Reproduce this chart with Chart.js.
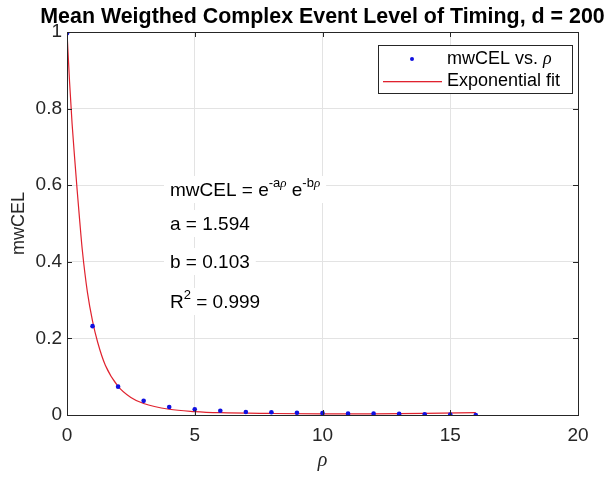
<!DOCTYPE html>
<html>
<head>
<meta charset="utf-8">
<script src="https://cdn.jsdelivr.net/npm/chart.js@4/dist/chart.umd.min.js"></script>
<style>
  body { margin: 0; background: #fff; }
  #wrap { width: 608px; height: 477px; }
</style>
</head>
<body>
<div id="wrap"><canvas id="myChart" width="608" height="477"></canvas></div>
<script>
// measured points
let rho = [0, 1, 2, 3, 4, 5, 6, 7, 8, 9, 10, 11, 12, 13, 14, 15, 16];
let mwCEL = [0.997, 0.232, 0.074, 0.037, 0.021, 0.015, 0.011, 0.008, 0.007, 0.006, 0.005, 0.004, 0.004, 0.003, 0.002, 0.001, 0.0];

// fitted curve
let fitRho = [0, 0.1, 0.2, 0.3, 0.4, 0.5, 0.6, 0.8, 1, 1.2, 1.5, 2, 2.5, 3, 4, 5, 6, 8, 10, 12, 14, 16];
let fitVal = [1.0, 0.87, 0.76, 0.67, 0.585, 0.505, 0.43, 0.32, 0.245, 0.19, 0.13, 0.075, 0.046, 0.03, 0.015, 0.009, 0.006, 0.004, 0.003, 0.003, 0.004, 0.006];

let xTicks = [0, 5, 10, 15, 20];
let yTicks = [0, 0.2, 0.4, 0.6, 0.8, 1];

let titleText = "Mean Weigthed Complex Event Level of Timing, d = 200";
let fitParams = { a: "1.594", b: "0.103", r2: "0.999" };

const FONT = "'Liberation Sans', Arial, sans-serif";
const dotColor = "#1010e0";
const fitColor = "#e0222e";

let points = rho.map((r, i) => ({ x: r, y: mwCEL[i] }));
let fitLine = fitRho.map((r, i) => ({ x: r, y: fitVal[i] }));

// draws title, box, inner ticks, legend and the fit text
const matlabLook = {
  id: "matlabLook",
  afterDraw(chart) {
    const ctx = chart.ctx;
    const a = chart.chartArea;
    const xs = chart.scales.x, ys = chart.scales.y;
    ctx.save();

    // box
    ctx.strokeStyle = "#262626";
    ctx.lineWidth = 1;
    ctx.strokeRect(Math.round(a.left) + 0.5, Math.round(a.top) + 0.5, Math.round(a.right - a.left), Math.round(a.bottom - a.top));

    // inner ticks
    ctx.beginPath();
    xTicks.forEach((t) => {
      let px = Math.round(xs.getPixelForValue(t)) + 0.5;
      ctx.moveTo(px, a.bottom); ctx.lineTo(px, a.bottom - 5);
      ctx.moveTo(px, a.top); ctx.lineTo(px, a.top + 5);
    });
    yTicks.forEach((t) => {
      let py = Math.round(ys.getPixelForValue(t)) + 0.5;
      ctx.moveTo(a.left, py); ctx.lineTo(a.left + 5, py);
      ctx.moveTo(a.right, py); ctx.lineTo(a.right - 5, py);
    });
    ctx.stroke();

    // title
    ctx.fillStyle = "#000";
    ctx.font = "bold 21.4px " + FONT;
    ctx.textAlign = "center";
    ctx.textBaseline = "alphabetic";
    ctx.fillText(titleText, (a.left + a.right) / 2, 23);

    // fit text, with white backing
    ctx.textAlign = "left";
    const big = "19px " + FONT, small = "13px " + FONT, smallIt = "italic 13px 'Liberation Serif', serif";
    function runs(list, x, y) {
      let w = 0;
      list.forEach((r) => { ctx.font = r.f; w += ctx.measureText(r.t).width; });
      ctx.fillStyle = "#fff";
      ctx.fillRect(x - 6, y - 20, w + 12, 27);
      ctx.fillStyle = "#000";
      let cx = x;
      list.forEach((r) => {
        ctx.font = r.f;
        ctx.fillText(r.t, cx, y - (r.up || 0));
        cx += ctx.measureText(r.t).width;
      });
    }
    let tx = 170;
    runs([{ t: "mwCEL = e", f: big }, { t: "-a", f: small, up: 9 }, { t: "\u03c1", f: smallIt, up: 9 },
          { t: " e", f: big }, { t: "-b", f: small, up: 9 }, { t: "\u03c1", f: smallIt, up: 9 }], tx, 196);
    runs([{ t: "a = " + fitParams.a, f: big }], tx, 230);
    runs([{ t: "b = " + fitParams.b, f: big }], tx, 268);
    runs([{ t: "R", f: big }, { t: "2", f: small, up: 9 }, { t: " = " + fitParams.r2, f: big }], tx, 308);

    // legend
    const lx = 378, ly = 45, lw = 194, lh = 48;
    ctx.fillStyle = "#fff";
    ctx.fillRect(lx, ly, lw, lh);
    ctx.strokeStyle = "#262626";
    ctx.lineWidth = 1;
    ctx.strokeRect(lx + 0.5, ly + 0.5, lw, lh);
    ctx.fillStyle = dotColor;
    ctx.beginPath();
    ctx.arc(412, 59, 2, 0, Math.PI * 2);
    ctx.fill();
    ctx.fillStyle = fitColor;
    ctx.fillRect(383, 81, 59, 1.3);
    ctx.fillStyle = "#000";
    ctx.textBaseline = "middle";
    ctx.font = "18px " + FONT;
    ctx.fillText("mwCEL vs. ", 447, 59);
    let w0 = ctx.measureText("mwCEL vs. ").width;
    ctx.font = "italic 18px 'Liberation Serif', serif";
    ctx.fillText("\u03c1", 447 + w0, 59);
    ctx.font = "18px " + FONT;
    ctx.fillText(chart.data.datasets[1].label, 447, 81);

    ctx.restore();
  }
};

var ctx = document.getElementById("myChart").getContext("2d");
var myChart = new Chart(ctx, {
  type: "scatter",
  data: {
    datasets: [
      {
        label: "mwCEL vs. \u03c1",
        data: points,
        backgroundColor: dotColor,
        borderColor: dotColor,
        pointRadius: 2.3,
        pointBorderWidth: 0,
        showLine: false,
      },
      {
        label: "Exponential fit",
        data: fitLine,
        borderColor: fitColor,
        borderWidth: 1.2,
        pointRadius: 0,
        showLine: true,
        cubicInterpolationMode: "monotone",
      },
    ],
  },
  options: {
    responsive: false,
    animation: false,
    devicePixelRatio: 1,
    layout: { padding: { top: 32, right: 30, left: 0, bottom: 0 } },
    plugins: {
      legend: { display: false },
      tooltip: { enabled: false },
    },
    scales: {
      x: {
        type: "linear",
        min: 0,
        max: 20,
        afterBuildTicks: (s) => { s.ticks = xTicks.map((v) => ({ value: v })); },
        afterFit: (s) => { s.height = 62; },
        grid: { color: "#e3e3e3", drawTicks: false },
        border: { display: false },
        ticks: { color: "#262626", font: { family: FONT, size: 19 }, padding: 9 },
        title: {
          display: true,
          text: "\u03c1",
          color: "#262626",
          font: { family: "'Liberation Serif', serif", size: 20, style: "italic" },
          padding: { top: 10 },
        },
      },
      y: {
        min: 0,
        max: 1,
        afterBuildTicks: (s) => { s.ticks = yTicks.map((v) => ({ value: v })); },
        afterFit: (s) => { s.width = 67; },
        grid: { color: "#e3e3e3", drawTicks: false },
        border: { display: false },
        ticks: {
          color: "#262626",
          font: { family: FONT, size: 19 },
          padding: 5,
          callback: (v) => String(+v.toFixed(1)),
        },
        title: {
          display: true,
          text: "mwCEL",
          color: "#262626",
          font: { family: FONT, size: 18 },
          padding: { top: 8, bottom: 0 },
        },
      },
    },
  },
  plugins: [matlabLook],
});
</script>
</body>
</html>
